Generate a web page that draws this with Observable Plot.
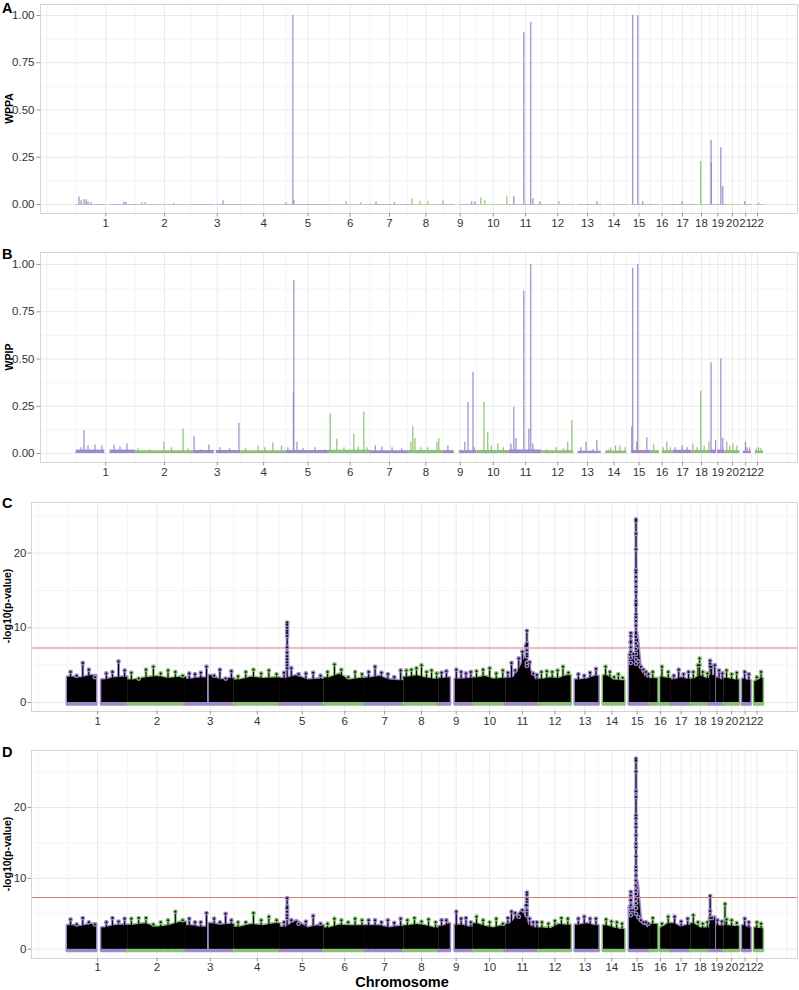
<!DOCTYPE html>
<html><head><meta charset="utf-8">
<script src="https://cdn.jsdelivr.net/npm/d3@7"></script>
<script src="https://cdn.jsdelivr.net/npm/@observablehq/plot@0.6"></script>
<style>
body{margin:0;background:#fff;}
#root{position:relative;width:799px;height:990px;overflow:hidden;font-family:"Liberation Sans",Arial,sans-serif;}
</style></head><body><div id="root"></div>
<script>
// ---------- data ----------
const chrom = ["1","2","3","4","5","6","7","8","9","10","11","12","13","14","15","16","17","18","19","20","21","22"];
const chromLenMb = [249,243,198,191,181,171,159,146,141,136,135,134,115,107,103,90,81,78,59,63,48,51];
const gapStartMb = [120,null,87,null,null,null,null,null,46,null,null,null,0,0,0,34,null,null,24,null,0,0];
const gapEndMb   = [142,null,95,null,null,null,null,null,67,null,null,null,18,19,20,46,null,null,28,null,14,16];
const sigLine = 7.3;

// Panel A: WPPA spikes [chromosome, Mb, value]
const wppaSpikes = [[1,12,0.04],[1,21,0.02],[1,33,0.025],[1,42,0.025],[1,50,0.015],[1,62,0.01],[1,200,0.012],[1,209,0.012],[2,27,0.01],[2,40,0.01],[2,160,0.006],[3,123,0.02],[4,189,0.01],[5,27,1.0],[5,31,0.02],[6,68,0.015],[6,130,0.008],[7,23,0.015],[7,100,0.01],[8,14,0.03],[8,48,0.015],[8,81,0.015],[8,144,0.02],[9,119,0.015],[9,132,0.015],[10,16,0.035],[10,33,0.02],[10,125,0.04],[11,18,0.042],[11,60,0.91],[11,89,0.963],[11,98,0.03],[11,127,0.015],[12,72,0.015],[13,97,0.015],[15,25,1.0],[15,46,1.0],[15,67,0.015],[17,38,0.015],[18,36,0.227],[19,1,0.34],[19,2,0.22],[19,42,0.30],[19,50,0.095],[21,20,0.015],[22,30,0.008]];

// Panel B: WPIP spikes [chromosome, Mb, value] and per-chromosome baseline level
const wpipSpikes = [[1,21,0.03],[1,33,0.12],[1,50,0.04],[1,79,0.045],[1,108,0.04],[1,159,0.045],[1,184,0.035],[1,213,0.05],[2,10,0.025],[2,60,0.02],[2,119,0.06],[2,150,0.03],[2,199,0.13],[2,220,0.025],[3,2,0.09],[3,30,0.02],[3,64,0.045],[3,110,0.03],[3,150,0.025],[3,190,0.16],[4,20,0.025],[4,72,0.04],[4,100,0.03],[4,134,0.055],[4,170,0.04],[5,6,0.03],[5,29,0.32],[5,31,0.915],[5,44,0.06],[5,70,0.025],[5,120,0.03],[5,160,0.02],[6,2,0.21],[6,30,0.075],[6,60,0.03],[6,101,0.10],[6,120,0.035],[6,143,0.22],[6,156,0.03],[7,20,0.04],[7,48,0.035],[7,90,0.03],[7,130,0.025],[8,10,0.06],[8,18,0.14],[8,27,0.08],[8,52,0.03],[8,80,0.03],[8,119,0.06],[8,127,0.08],[9,19,0.04],[9,90,0.06],[9,103,0.27],[9,124,0.43],[9,130,0.03],[10,29,0.27],[10,45,0.11],[10,60,0.04],[10,87,0.05],[10,110,0.03],[11,6,0.05],[11,18,0.245],[11,27,0.08],[11,60,0.86],[11,81,0.13],[11,89,1.0],[11,98,0.05],[12,20,0.02],[12,60,0.03],[12,90,0.025],[12,105,0.02],[12,109,0.06],[12,126,0.175],[13,30,0.03],[13,51,0.06],[13,80,0.02],[13,97,0.07],[14,30,0.02],[14,40,0.03],[14,60,0.04],[14,78,0.04],[14,100,0.03],[15,21,0.14],[15,25,0.98],[15,42,0.06],[15,46,1.0],[15,84,0.085],[16,10,0.045],[16,50,0.03],[16,65,0.06],[16,80,0.03],[17,10,0.03],[17,38,0.04],[17,60,0.03],[18,3,0.05],[18,20,0.03],[18,36,0.33],[18,50,0.04],[18,70,0.06],[19,1,0.48],[19,20,0.07],[19,42,0.50],[19,50,0.08],[20,8,0.06],[20,20,0.04],[20,33,0.05],[20,50,0.04],[21,23,0.06],[21,29,0.03],[21,40,0.03],[22,20,0.025],[22,30,0.03],[22,40,0.025]];
const wpipBase = [0.018,0.015,0.016,0.014,0.016,0.017,0.015,0.016,0.015,0.016,0.018,0.014,0.012,0.013,0.016,0.015,0.017,0.016,0.018,0.015,0.012,0.013];

// Panel C: top points along each chromosome, dense-mass top, and peak columns
const cTop = [[4.1,3.6,5.3,4.4,3.4,3.9,4.1,5.5,4.3],[4.0,3.2,4.4,4.8,3.9,4.3,4.1,3.6],[3.9,3.8,4.0,4.8,3.6,4.4,3.2,4.2],[3.5,4.1,4.4,3.9,4.3,3.8],[4.0,4.6,3.8,3.9,4.0,3.6],[4.1,5.1,4.4,3.4,4.1,3.8],[4.1,4.8,4.0,3.8,3.4,4.3],[4.3,4.4,4.6,5.0,4.1,4.3,3.9],[4.0,4.2,4.4,4.1,3.9,4.1],[4.2,4.4,4.6,3.9,4.3],[4.0,5.3,4.3,5.9,6.8,7.6,5.4,3.9,3.7],[4.1,4.2,4.1,4.3,4.8,4.0],[3.8,3.6,4.0,4.5],[4.8,4.1,3.4,3.8,3.3],[8.0,6.5,8.8,5.5,4.8,4.4,4.1,3.8],[4.1,4.8,4.1],[3.6,4.4,3.8,4.1],[4.1,5.0,4.1,3.9],[4.8,5.0,4.3,3.9],[4.3,3.8,4.0],[4.1,3.8],[3.4,4.1]];
const cBody = [[3.4,3.3,3.6,3.0,3.3,3.4],[3.0,3.3,3.5,3.2,3.4],[3.1,3.3,3.6,3.0,3.2],[3.0,3.4,3.2,3.3],[3.2,3.6,3.0,3.1],[3.3,3.8,3.0,3.2],[3.3,3.5,3.0,2.9],[3.4,3.6,3.3,3.1],[3.2,3.3,3.1,3.2],[3.3,3.5,3.1,3.2],[3.2,3.4,4.5,6.0,4.3,3.0],[3.1,3.3,3.2,3.6],[3.0,3.1,3.5],[3.6,3.0,2.9],[6.5,5.5,9.0,4.2,3.5,3.2],[3.2,3.4,3.2],[3.0,3.3,3.1],[3.1,3.6,3.2],[3.6,3.3,3.0],[3.2,3.0],[3.1,2.9],[2.8,3.2]];
const cPeaks = [[5,28,[10.7,10.4,10.0,9.6,9.3,8.9,7.4,6.7,6.2,5.8,5.4,5.0,4.6]],[11,86,[9.6,7.9,7.7,7.6,7.0,6.5,6.2,5.3,4.9]],[15,25,[9.3,8.9,8.2,7.4,6.8,6.0,5.3]],[15,46.5,[24.5,24.3,22.6,20.5,17.7,17.4,16.8,16.2,15.5,14.8,13.6,13.2,13.0,11.8,11.4,10.9,10.3,9.4,9.2,8.8,7.9,7.2,6.5,5.8,5.2]],[18,36,[5.9,5.0]],[19,1.5,[5.6,5.2,4.8]]];

// Panel D
const dTop = [[4.2,3.5,4.4,3.8,3.5,3.8,4.4,3.9,4.3],[4.3,4.4,4.4,3.5,3.8,4.1,5.3,4.1],[4.3,3.8,3.8,5.1,4.3,3.8,5.0,4.1],[3.8,3.8,5.1,4.1,4.6,4.1],[3.8,4.1,3.6,3.9,4.7,3.6],[3.6,4.3,4.1,3.8,4.3,4.1],[4.1,4.1,3.8,4.1,3.7,4.3],[4.1,4.4,3.9,4.2,3.8],[4.1,4.1,5.3,4.3,4.4,3.8],[4.6,4.1,3.8,4.3,3.6],[4.4,5.3,5.1,4.6,5.5,6.2,4.3,3.8,3.8],[3.8,3.6,4.0,4.4,4.3],[4.3,4.6,4.3,4.3],[4.2,3.9,3.8,3.6],[6.9,5.5,7.8,4.5,4.1,3.8,3.8,3.6],[4.4,3.6,4.6],[4.6,3.9,4.3],[4.8,3.8,3.6,3.8],[4.4,4.1,3.9],[4.2,4.1,3.7],[4.3,3.8],[3.8,3.6]];
const dBody = [[3.3,3.2,3.5,3.0,3.3,3.4],[3.4,3.6,3.1,3.3,3.8],[3.3,3.1,3.6,3.4,3.5],[3.1,3.5,3.3,3.6],[3.1,4.0,3.0,3.3],[3.0,3.4,3.3,3.3],[3.3,3.3,3.0,3.2],[3.3,3.5,3.3,3.0],[3.2,3.6,3.4,3.1],[3.6,3.2,3.0,3.3],[3.5,4.3,5.5,3.4,3.0],[3.0,2.9,3.5,3.4],[3.4,3.6,3.3],[3.3,3.0,2.8],[6.0,5.0,9.5,4.2,3.3,3.0],[3.5,3.0,3.6],[3.6,3.1,3.4],[3.6,3.0,3.0],[4.5,3.4,3.2],[3.3,3.2],[3.3,3.0],[3.0,2.9]];
const dPeaks = [[5,28,[7.2,6.0,5.8,5.3,4.8,4.4]],[11,86,[8.0,7.7,7.1,6.7,6.2,5.5,5.1,4.8]],[15,25,[8.1,7.6,6.9,6.2,5.5,4.8]],[15,46.5,[26.9,26.6,25.1,22.3,21.5,18.9,18.5,17.7,17.2,16.1,14.9,14.4,13.1,11.6,11.1,10.4,9.7,9.0,8.3,7.8,7.1,6.5,5.8,5.0]],[19,1.5,[7.5,5.4,4.4]],[20,4,[6.4]]];

const wppaTicks = [0, 0.25, 0.5, 0.75, 1];
const pvalTicks = [0, 10, 20];

// ---------- helpers ----------
const purple = "#9e89c9", green = "#8cc079";
const col = i => (i % 2 === 0 ? purple : green);
const cumStart = [];
{ let acc = 0; chromLenMb.forEach(l => { cumStart.push(acc); acc += l; }); }
const centers = chromLenMb.map((l, i) => cumStart[i] + l / 2);
const labelAt = new Map(centers.map((c, i) => [c, chrom[i]]));
const xMinor = [];
{
  const bd = centers[1] - centers[0];
  const b = [centers[0] - bd, ...centers, centers[centers.length - 1] + bd];
  for (let k = 0; k < b.length - 1; k++) xMinor.push((b[k] + b[k + 1]) / 2);
  xMinor.push(b[0]);
}
const xDomain = [-149, 3021];

function chrRanges(i) {
  const L = chromLenMb[i], gs = gapStartMb[i], ge = gapEndMb[i];
  if (gs == null) return [[0, L]];
  return [[0, gs], [ge, L]].filter(r => r[1] - r[0] > 0.5);
}
function spreadMb(i, n) {
  const rs = chrRanges(i);
  const tot = d3.sum(rs, r => r[1] - r[0]);
  return d3.range(n).map(k => {
    let t = (k + 0.5) / n * tot;
    for (const r of rs) { const w = r[1] - r[0]; if (t <= w) return r[0] + t; t -= w; }
    return rs[rs.length - 1][1];
  });
}
function profilePts(i, vals) {
  const rs = chrRanges(i), xs = spreadMb(i, vals.length), out = [];
  rs.forEach((r, ri) => {
    const idx = xs.map((x, k) => k).filter(k => xs[k] >= r[0] && xs[k] <= r[1]);
    if (!idx.length) return;
    const seg = i + "-" + ri;
    out.push({pos: cumStart[i] + r[0], v: vals[idx[0]], seg, ci: i});
    idx.forEach(k => out.push({pos: cumStart[i] + xs[k], v: vals[k], seg, ci: i}));
    out.push({pos: cumStart[i] + r[1], v: vals[idx[idx.length - 1]], seg, ci: i});
  });
  return out;
}
function flatPts(i, v) {
  return chrRanges(i).flatMap((r, ri) => [
    {pos: cumStart[i] + r[0], v, seg: i + "-" + ri, ci: i},
    {pos: cumStart[i] + r[1], v, seg: i + "-" + ri, ci: i}
  ]);
}
const spikePts = arr => arr.map(([c, mb, v]) => ({pos: cumStart[c - 1] + mb, v, ci: c - 1}));

const root = document.getElementById("root");
const FONT = "'Liberation Sans', Arial, Helvetica, sans-serif";

function panel({top, height, mt, mb, ml, ydomain, yticks, yminor, yfmt, ypad, xpad, marks}) {
  const svg = Plot.plot({
    width: 799, height, marginTop: mt, marginBottom: mb, marginLeft: ml, marginRight: 2,
    x: {domain: xDomain},
    y: {domain: ydomain},
    color: {type: "identity"},
    style: {fontFamily: FONT, fontSize: "11.5px", color: "#333", background: "transparent", overflow: "visible"},
    marks: [
      Plot.gridX(xMinor, {stroke: "#f4f4f4", strokeOpacity: 1, strokeWidth: 1}),
      Plot.gridY(yminor, {stroke: "#f4f4f4", strokeOpacity: 1, strokeWidth: 1}),
      Plot.gridX(centers, {stroke: "#e9e9e9", strokeOpacity: 1, strokeWidth: 1}),
      Plot.gridY(yticks, {stroke: "#e9e9e9", strokeOpacity: 1, strokeWidth: 1}),
      ...marks,
      Plot.frame({stroke: "#d4d4d4"}),
      Plot.axisX(centers, {tickFormat: d => labelAt.get(d), tickSize: 3.5, tickPadding: xpad, fontSize: 11.5, stroke: "#999", fill: "#333", label: null}),
      Plot.axisY(yticks, {tickFormat: yfmt, tickSize: 3.5, tickPadding: ypad, fontSize: 11.5, stroke: "#999", fill: "#333", label: null})
    ]
  });
  const d = document.createElement("div");
  d.style.cssText = `position:absolute;left:0;top:${top}px;`;
  d.appendChild(svg);
  root.appendChild(d);
}

// ---------- Panel A ----------
const aBase = chromLenMb.flatMap((_, i) => flatPts(i, 0));
panel({
  top: 0, height: 238, mt: 4, mb: 25, ml: 40,
  ydomain: [-0.0476, 1.0582], yticks: wppaTicks, yminor: [0.125, 0.375, 0.625, 0.875],
  yfmt: d3.format(".2f"), ypad: 2.5, xpad: 2,
  marks: [
    Plot.line(aBase, {x: "pos", y: "v", z: "seg", stroke: d => col(d.ci), strokeWidth: 1, strokeOpacity: 0.55}),
    Plot.ruleX(spikePts(wppaSpikes), {x: "pos", y1: 0, y2: "v", stroke: d => col(d.ci), strokeWidth: 1.2})
  ]
});

// ---------- Panel B ----------
const bBase = wpipBase.flatMap((v, i) => flatPts(i, v));
panel({
  top: 238, height: 248, mt: 14, mb: 24, ml: 40,
  ydomain: [-0.0476, 1.0635], yticks: wppaTicks, yminor: [0.125, 0.375, 0.625, 0.875],
  yfmt: d3.format(".2f"), ypad: 2.5, xpad: 2,
  marks: [
    Plot.area(bBase, {x1: "pos", y1: 0, y2: "v", z: "seg", fill: d => col(d.ci)}),
    Plot.ruleX(spikePts(wpipSpikes), {x: "pos", y1: 0, y2: "v", stroke: d => col(d.ci), strokeWidth: 1.2})
  ]
});

// ---------- Panels C / D ----------
function manhattanMarks(top, body, peaks) {
  const topPts = top.flatMap((vals, i) => spreadMb(i, vals.length).map((mb, k) => ({pos: cumStart[i] + mb, v: vals[k], ci: i})));
  const bodyPts = body.flatMap((vals, i) => profilePts(i, vals));
  const peakPts = peaks.flatMap(([c, mb, vals]) => vals.map(v => ({pos: cumStart[c - 1] + mb, v, ci: c - 1})));
  const stems = [...topPts, ...peaks.map(([c, mb, vals]) => ({pos: cumStart[c - 1] + mb, v: d3.max(vals), ci: c - 1}))];
  const dots = [...topPts, ...peakPts];
  return [
    Plot.area(bodyPts, {x1: "pos", y1: -0.3, y2: "v", z: "seg", fill: d => col(d.ci), stroke: d => col(d.ci), strokeWidth: 3, strokeLinejoin: "round"}),
    Plot.ruleX(stems, {x: "pos", y1: 0, y2: "v", stroke: d => col(d.ci), strokeWidth: 3}),
    Plot.area(bodyPts, {x1: "pos", y1: 0, y2: "v", z: "seg", fill: "#000"}),
    Plot.ruleX(stems, {x: "pos", y1: 0, y2: "v", stroke: "#000", strokeWidth: 1}),
    Plot.ruleY([sigLine], {stroke: "#d97b73", strokeWidth: 1}),
    Plot.dot(dots, {x: "pos", y: "v", r: 2.4, fill: d => col(d.ci), stroke: "none"}),
    Plot.dot(dots, {x: "pos", y: "v", r: 1, fill: "#000", stroke: "none"})
  ];
}
panel({
  top: 486, height: 250, mt: 16, mb: 25, ml: 31,
  ydomain: [-1.2, 26.77], yticks: pvalTicks, yminor: [5, 15, 25],
  yfmt: d => String(d), ypad: 1.5, xpad: 2,
  marks: manhattanMarks(cTop, cBody, cPeaks)
});
panel({
  top: 736, height: 240, mt: 14, mb: 18, ml: 31,
  ydomain: [-1.31, 28.05], yticks: pvalTicks, yminor: [5, 15, 25],
  yfmt: d => String(d), ypad: 1.5, xpad: 1,
  marks: manhattanMarks(dTop, dBody, dPeaks)
});

// ---------- overlay titles ----------
const ov = d3.select(root).append("svg")
  .attr("width", 799).attr("height", 990)
  .style("position", "absolute").style("left", "0").style("top", "0")
  .style("pointer-events", "none").style("font-family", FONT);
[["A", 13], ["B", 259], ["C", 508], ["D", 757]].forEach(([t, y]) =>
  ov.append("text").attr("x", 2).attr("y", y).attr("font-size", 14.5).attr("font-weight", "bold").attr("fill", "#000").text(t));
[["WPPA", 12.5, 108.5], ["WPIP", 12.5, 357], ["-log10(p-value)", 11, 606], ["-log10(p-value)", 11, 854]].forEach(([t, x, y]) =>
  ov.append("text").attr("transform", `translate(${x},${y}) rotate(-90)`).attr("text-anchor", "middle")
    .attr("font-size", 10.5).attr("font-weight", "bold").attr("fill", "#000").text(t));
ov.append("text").attr("x", 402).attr("y", 986.5).attr("text-anchor", "middle")
  .attr("font-size", 14.5).attr("font-weight", "bold").attr("fill", "#000").text("Chromosome");
</script></body></html>
